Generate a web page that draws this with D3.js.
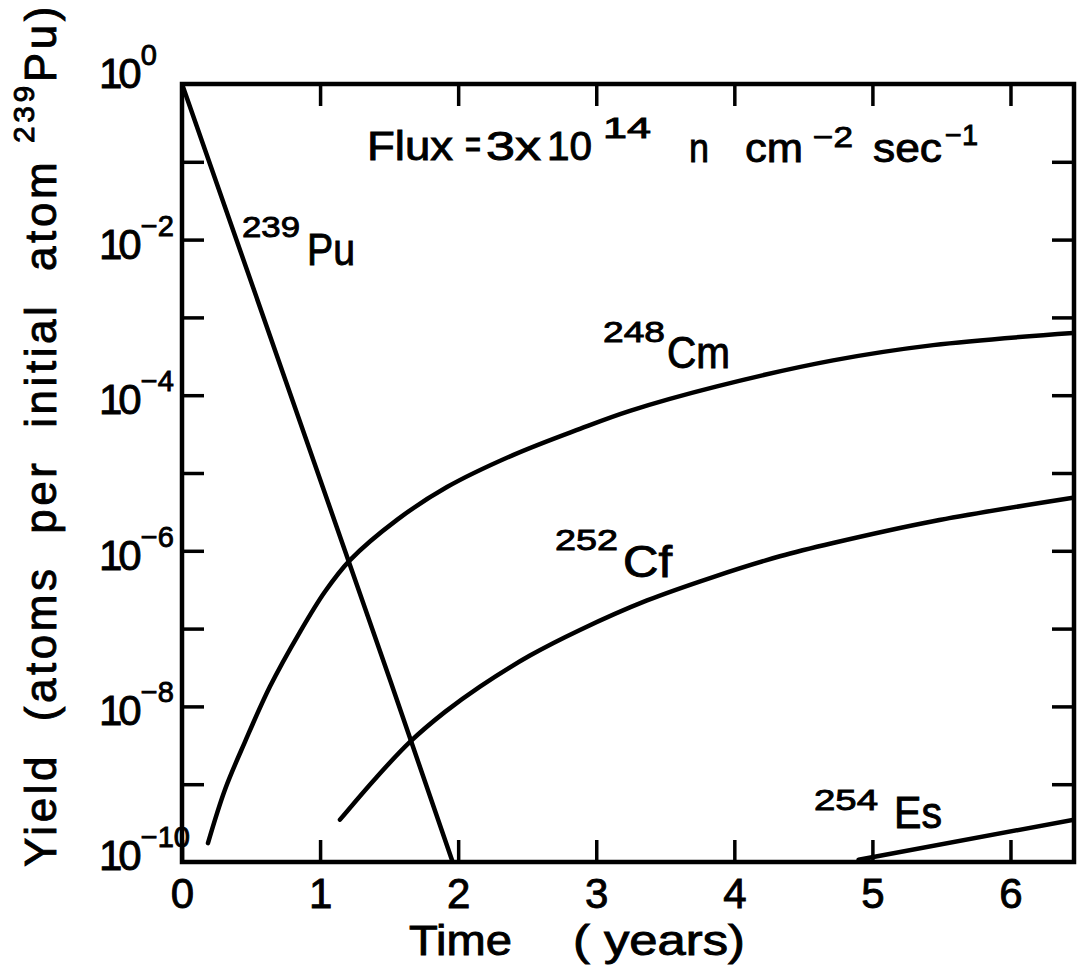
<!DOCTYPE html>
<html>
<head>
<meta charset="utf-8">
<script src="https://cdn.jsdelivr.net/npm/d3@7"></script>
<style>
  body { margin: 0; background: #fff; }
  text { font-family: "Liberation Sans", Arial, sans-serif; fill: #000; stroke: #000; stroke-width: 0.9px; }
</style>
</head>
<body>
<div id="chart"></div>
<script>

// values (time in years, yield in atoms per initial 239Pu atom)
var puTime = [0, 0.75, 1.51, 1.96];
var puYield = [1, 1.55e-4, 2.1e-8, 1e-10];

var cmTime = [0.188, 0.311, 0.456, 0.637, 0.855, 1.036, 1.217, 1.557, 1.919, 2.397, 2.882, 3.244, 3.874, 4.715, 5.44, 6.453];
var cmYield = [1.75e-10, 8.5e-10, 3.5e-9, 1.8e-8, 9.1e-8, 3.0e-7, 7.6e-7, 2.5e-6, 6.6e-6, 1.7e-5, 3.7e-5, 6.3e-5, 1.3e-4, 2.8e-4, 4.4e-4, 6.3e-4];

var cfTime = [1.144, 1.398, 1.651, 1.905, 2.158, 2.52, 2.882, 3.368, 3.846, 4.33, 4.715, 5.44, 6.453];
var cfYield = [3.5e-10, 1.17e-9, 3.5e-9, 8.5e-9, 1.8e-8, 4.5e-8, 9.6e-8, 2.3e-7, 4.6e-7, 8.5e-7, 1.26e-6, 2.4e-6, 4.8e-6];

var esTime = [4.9, 6.46];
var esYield = [1.07e-10, 3.5e-10];

var xTickValues = [0, 1, 2, 3, 4, 5, 6];
var yLabelExps = [0, -2, -4, -6, -8, -10];
var yTickExps = [-1, -2, -3, -4, -5, -6, -7, -8, -9];

var W = 1077, H = 976;
var plot = { left: 182, top: 84, right: 1074, bottom: 862 };

var svg = d3.select("#chart").append("svg")
    .attr("width", W)
    .attr("height", H);

var x = d3.scaleLinear()
    .domain([0, 6.46])
    .range([plot.left, plot.right]);

var y = d3.scaleLog()
    .domain([1e-10, 1])
    .range([plot.bottom, plot.top]);

var tickLen = 22;
var yTicks = yTickExps.map(function(e) { return Math.pow(10, e); });

// bottom axis with labels
var gx = svg.append("g")
    .attr("transform", "translate(0," + plot.bottom + ")")
    .call(d3.axisBottom(x).tickValues(xTickValues)
      .tickSizeInner(-tickLen).tickSizeOuter(0).tickPadding(16)
      .tickFormat(d3.format("d")));

// top, left, right ticks (no labels)
var gTop = svg.append("g")
    .attr("transform", "translate(0," + plot.top + ")")
    .call(d3.axisTop(x).tickValues(xTickValues.slice(1))
      .tickSizeInner(-tickLen).tickSizeOuter(0).tickFormat(""));

var gLeft = svg.append("g")
    .attr("transform", "translate(" + plot.left + ",0)")
    .call(d3.axisLeft(y).tickValues(yTicks)
      .tickSizeInner(-tickLen).tickSizeOuter(0).tickFormat(""));

var gRight = svg.append("g")
    .attr("transform", "translate(" + plot.right + ",0)")
    .call(d3.axisRight(y).tickValues(yTicks)
      .tickSizeInner(-tickLen).tickSizeOuter(0).tickFormat(""));

[gx, gTop, gLeft, gRight].forEach(function(g) {
  g.select(".domain").remove();
  g.selectAll(".tick line").attr("stroke", "#000").attr("stroke-width", 3.5);
});

gx.selectAll(".tick text")
    .attr("font-size", 42)
    .attr("font-family", "Liberation Sans, Arial, sans-serif")
    .attr("fill", "#000");

// frame
svg.append("rect")
    .attr("x", plot.left)
    .attr("y", plot.top)
    .attr("width", plot.right - plot.left)
    .attr("height", plot.bottom - plot.top)
    .attr("fill", "none")
    .attr("stroke", "#000")
    .attr("stroke-width", 4.5);

// y labels: 10 with superscript exponent, one text element each
yLabelExps.forEach(function(e) {
  var off = e === 0 ? 4 : (e === -10 ? 8 : 19);
  var lab = svg.append("text")
      .attr("x", 99)
      .attr("y", y(Math.pow(10, e)) + off)
      .attr("font-size", 42);
  lab.append("tspan").attr("letter-spacing", -4).text("10");
  lab.append("tspan")
      .attr("dx", 3)
      .attr("dy", -23)
      .attr("font-size", 29)
      .text(e === 0 ? "0" : "\u2212" + (-e));
});

// curves
svg.append("clipPath").attr("id", "plotclip")
  .append("rect")
    .attr("x", plot.left)
    .attr("y", plot.top)
    .attr("width", plot.right - plot.left)
    .attr("height", plot.bottom - plot.top);

var line = d3.line()
    .x(function(d) { return x(d[0]); })
    .y(function(d) { return y(d[1]); });

var series = [
  { t: puTime, v: puYield, curve: d3.curveLinear },
  { t: cmTime, v: cmYield, curve: d3.curveCatmullRom.alpha(0.5) },
  { t: cfTime, v: cfYield, curve: d3.curveCatmullRom.alpha(0.5) },
  { t: esTime, v: esYield, curve: d3.curveLinear }
];

series.forEach(function(s) {
  var pts = s.t.map(function(t, i) { return [t, s.v[i]]; });
  svg.append("path")
      .attr("d", line.curve(s.curve)(pts))
      .attr("fill", "none")
      .attr("stroke", "#000")
      .attr("stroke-width", 4.5)
      .attr("stroke-linecap", "round")
      .attr("stroke-linejoin", "round")
      .attr("clip-path", "url(#plotclip)");
});

// text helper: fixed left edge and width
function put(txt, px, py, size, len) {
  var t = svg.append("text").attr("x", px).attr("y", py).attr("font-size", size).text(txt);
  if (len) t.attr("textLength", len).attr("lengthAdjust", "spacingAndGlyphs");
  return t;
}

// isotope labels
put("239", 242, 237, 30, 58);
put("Pu", 307, 265, 44, 48);
put("248", 603, 342, 30, 62);
put("Cm", 667, 368, 44, 63);
put("252", 555, 550, 30, 63);
put("Cf", 623, 577, 44, 49);
put("254", 814, 810, 30, 64);
put("Es", 894, 828, 44, 48);

// flux annotation
put("Flux", 367, 160, 40, 86);
put("=", 465, 158, 40, 16);
put("3x", 486, 160, 40, 55);
put("10", 547, 160, 40, 45);
put("14", 603, 138, 29, 48);
put("n", 689, 162, 40, 20);
put("cm", 745, 162, 40, 58);
put("\u22122", 813, 147, 29, 40);
put("sec", 873, 162, 40, 69);
put("\u22121", 945, 145, 29, 33);

// x title
put("Time", 409, 955, 42, 103);
put("( years)", 573, 955, 42, 172);

// y title, stretched to its span
var yTitle = svg.append("text")
    .attr("transform", "translate(56,867) rotate(-90)")
    .attr("font-size", 44)
    .style("white-space", "pre");
yTitle.append("tspan").text("Yield  (atoms  per  initial  atom ");
yTitle.append("tspan").attr("font-size", 30).attr("dy", -22).text("239");
yTitle.append("tspan").attr("dy", 22).text("Pu)");

var natural = yTitle.node().getComputedTextLength();
var nChars = yTitle.text().length;
yTitle.attr("letter-spacing", (864 - natural) / nChars);

</script>
</body>
</html>
